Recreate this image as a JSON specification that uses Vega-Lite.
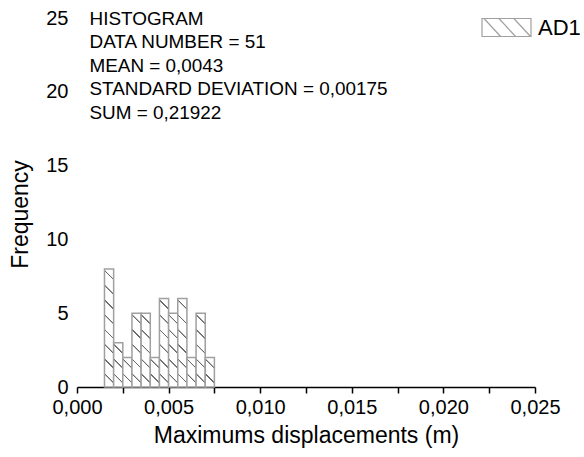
{
  "$schema": "https://vega.github.io/schema/vega-lite/v6.json",
  "width": 458,
  "height": 369,
  "autosize": "none",
  "padding": {"left": 77, "top": 18, "right": 49, "bottom": 70},
  "background": "white",
  "config": {
    "view": {"stroke": null},
    "font": "Liberation Sans",
    "axis": {"grid": false, "labelFont": "Liberation Sans", "titleFont": "Liberation Sans", "labelColor": "black", "titleColor": "black", "titleFontWeight": "normal"}
  },
  "layer": [
    {
      "data": {
        "values": [
          {"bin_start": 0.0015, "bin_end": 0.002, "count": 8},
          {"bin_start": 0.002, "bin_end": 0.0025, "count": 3},
          {"bin_start": 0.0025, "bin_end": 0.003, "count": 2},
          {"bin_start": 0.003, "bin_end": 0.0035, "count": 5},
          {"bin_start": 0.0035, "bin_end": 0.004, "count": 5},
          {"bin_start": 0.004, "bin_end": 0.0045, "count": 2},
          {"bin_start": 0.0045, "bin_end": 0.005, "count": 6},
          {"bin_start": 0.005, "bin_end": 0.0055, "count": 5},
          {"bin_start": 0.0055, "bin_end": 0.006, "count": 6},
          {"bin_start": 0.006, "bin_end": 0.0065, "count": 2},
          {"bin_start": 0.0065, "bin_end": 0.007, "count": 5},
          {"bin_start": 0.007, "bin_end": 0.0075, "count": 2}
        ]
      },
      "mark": {"type": "rect", "strokeWidth": 1.5},
      "encoding": {
        "x": {
          "field": "bin_start",
          "type": "quantitative",
          "scale": {"domain": [0, 0.025], "nice": false, "zero": false},
          "axis": {
            "title": "Maximums displacements (m)",
            "titleFontSize": 23,
            "titlePadding": 7,
            "values": [0, 0.0025, 0.005, 0.0075, 0.01, 0.0125, 0.015, 0.0175, 0.02, 0.0225, 0.025],
            "labelExpr": "abs(datum.value*200 - round(datum.value*200)) < 0.001 ? replace(format(datum.value, '.3f'), '.', ',') : ''",
            "labelFontSize": 20,
            "labelPadding": 4,
            "labelFlush": false,
            "labelOverlap": false,
            "domainColor": "black",
            "domainWidth": 1.5,
            "tickColor": "black",
            "tickWidth": 1.5,
            "tickSize": 6,
            "encode": {"ticks": {"update": {"y2": {"signal": "abs(datum.value*200 - round(datum.value*200)) < 0.001 ? 6 : 4"}}}}
          }
        },
        "x2": {"field": "bin_end"},
        "y": {
          "field": "count",
          "type": "quantitative",
          "stack": null,
          "scale": {"domain": [0, 25], "nice": false},
          "axis": {
            "title": "Frequency",
            "titleFontSize": 23,
            "titleAngle": -90,
            "titleBaseline": "middle",
            "titleX": -57,
            "titleY": 196,
            "values": [0, 5, 10, 15, 20, 25],
            "labelFontSize": 20,
            "labelPadding": 9,
            "labelFlush": false,
            "domain": false,
            "ticks": false,
            "tickSize": 0
          }
        },
        "y2": {"datum": 0},
        "fill": {
          "condition": [
            {"test": "datum.count === 2", "value": {"gradient": "linear", "x1": 0, "y1": 1, "x2": 0.3103, "y2": 0, "stops": [
              {"offset": 0, "color": "white"},
              {"offset": 0.3789, "color": "white"}, {"offset": 0.3943, "color": "#6a6a6a"}, {"offset": 0.4253, "color": "#6a6a6a"}, {"offset": 0.4407, "color": "white"},
              {"offset": 0.8350, "color": "white"}, {"offset": 0.8504, "color": "#6a6a6a"}, {"offset": 0.8814, "color": "#6a6a6a"}, {"offset": 0.8968, "color": "white"},
              {"offset": 1, "color": "white"}]}},
            {"test": "datum.count === 3", "value": {"gradient": "linear", "x1": 0, "y1": 1, "x2": 0.2069, "y2": 0, "stops": [
              {"offset": 0, "color": "white"},
              {"offset": 0.2654, "color": "white"}, {"offset": 0.2763, "color": "#6a6a6a"}, {"offset": 0.2979, "color": "#6a6a6a"}, {"offset": 0.3088, "color": "white"},
              {"offset": 0.5851, "color": "white"}, {"offset": 0.5960, "color": "#6a6a6a"}, {"offset": 0.6176, "color": "#6a6a6a"}, {"offset": 0.6285, "color": "white"},
              {"offset": 0.9047, "color": "white"}, {"offset": 0.9156, "color": "#6a6a6a"}, {"offset": 0.9372, "color": "#6a6a6a"}, {"offset": 0.9481, "color": "white"},
              {"offset": 1, "color": "white"}]}},
            {"test": "datum.count === 5", "value": {"gradient": "linear", "x1": 0, "y1": 1, "x2": 0.1241, "y2": 0, "stops": [
              {"offset": 0, "color": "white"},
              {"offset": 0.1636, "color": "white"}, {"offset": 0.1702, "color": "#6a6a6a"}, {"offset": 0.1836, "color": "#6a6a6a"}, {"offset": 0.1902, "color": "white"},
              {"offset": 0.3606, "color": "white"}, {"offset": 0.3672, "color": "#6a6a6a"}, {"offset": 0.3806, "color": "#6a6a6a"}, {"offset": 0.3872, "color": "white"},
              {"offset": 0.5576, "color": "white"}, {"offset": 0.5642, "color": "#6a6a6a"}, {"offset": 0.5776, "color": "#6a6a6a"}, {"offset": 0.5842, "color": "white"},
              {"offset": 0.7545, "color": "white"}, {"offset": 0.7611, "color": "#6a6a6a"}, {"offset": 0.7745, "color": "#6a6a6a"}, {"offset": 0.7811, "color": "white"},
              {"offset": 0.9515, "color": "white"}, {"offset": 0.9581, "color": "#6a6a6a"}, {"offset": 0.9715, "color": "#6a6a6a"}, {"offset": 0.9781, "color": "white"},
              {"offset": 1, "color": "white"}]}},
            {"test": "datum.count === 6", "value": {"gradient": "linear", "x1": 0, "y1": 1, "x2": 0.1034, "y2": 0, "stops": [
              {"offset": 0, "color": "white"},
              {"offset": 0.1369, "color": "white"}, {"offset": 0.1425, "color": "#6a6a6a"}, {"offset": 0.1537, "color": "#6a6a6a"}, {"offset": 0.1593, "color": "white"},
              {"offset": 0.3018, "color": "white"}, {"offset": 0.3074, "color": "#6a6a6a"}, {"offset": 0.3186, "color": "#6a6a6a"}, {"offset": 0.3242, "color": "white"},
              {"offset": 0.4667, "color": "white"}, {"offset": 0.4723, "color": "#6a6a6a"}, {"offset": 0.4835, "color": "#6a6a6a"}, {"offset": 0.4891, "color": "white"},
              {"offset": 0.6316, "color": "white"}, {"offset": 0.6372, "color": "#6a6a6a"}, {"offset": 0.6484, "color": "#6a6a6a"}, {"offset": 0.6540, "color": "white"},
              {"offset": 0.7965, "color": "white"}, {"offset": 0.8021, "color": "#6a6a6a"}, {"offset": 0.8133, "color": "#6a6a6a"}, {"offset": 0.8189, "color": "white"},
              {"offset": 0.9614, "color": "white"}, {"offset": 0.9670, "color": "#6a6a6a"}, {"offset": 0.9782, "color": "#6a6a6a"}, {"offset": 0.9838, "color": "white"},
              {"offset": 1, "color": "white"}]}},
            {"test": "datum.count === 8", "value": {"gradient": "linear", "x1": 0, "y1": 1, "x2": 0.0776, "y2": 0, "stops": [
              {"offset": 0, "color": "white"},
              {"offset": 0.1032, "color": "white"}, {"offset": 0.1074, "color": "#6a6a6a"}, {"offset": 0.1158, "color": "#6a6a6a"}, {"offset": 0.1200, "color": "white"},
              {"offset": 0.2275, "color": "white"}, {"offset": 0.2317, "color": "#6a6a6a"}, {"offset": 0.2401, "color": "#6a6a6a"}, {"offset": 0.2443, "color": "white"},
              {"offset": 0.3517, "color": "white"}, {"offset": 0.3559, "color": "#6a6a6a"}, {"offset": 0.3643, "color": "#6a6a6a"}, {"offset": 0.3685, "color": "white"},
              {"offset": 0.4760, "color": "white"}, {"offset": 0.4802, "color": "#6a6a6a"}, {"offset": 0.4886, "color": "#6a6a6a"}, {"offset": 0.4928, "color": "white"},
              {"offset": 0.6002, "color": "white"}, {"offset": 0.6044, "color": "#6a6a6a"}, {"offset": 0.6128, "color": "#6a6a6a"}, {"offset": 0.6170, "color": "white"},
              {"offset": 0.7245, "color": "white"}, {"offset": 0.7287, "color": "#6a6a6a"}, {"offset": 0.7371, "color": "#6a6a6a"}, {"offset": 0.7413, "color": "white"},
              {"offset": 0.8488, "color": "white"}, {"offset": 0.8530, "color": "#6a6a6a"}, {"offset": 0.8614, "color": "#6a6a6a"}, {"offset": 0.8656, "color": "white"},
              {"offset": 0.9730, "color": "white"}, {"offset": 0.9772, "color": "#6a6a6a"}, {"offset": 0.9856, "color": "#6a6a6a"}, {"offset": 0.9898, "color": "white"},
              {"offset": 1, "color": "white"}]}}
          ],
          "value": "white"
        },
        "stroke": {
          "datum": "AD1",
          "type": "nominal",
          "scale": {"range": ["#a0a0a0"]},
          "legend": {
            "orient": "none",
            "legendX": 404,
            "legendY": -16,
            "title": null,
            "padding": 0,
            "symbolType": "M-1,-0.367H1V0.367H-1ZM-0.92,-0.367L-0.24,0.367M-0.31,-0.367L0.37,0.367M0.3,-0.367L0.98,0.367",
            "symbolSize": 2401,
            "symbolFillColor": "transparent",
            "symbolStrokeColor": "#808080",
            "symbolStrokeWidth": 1.2,
            "labelFontSize": 22,
            "labelFont": "Liberation Sans",
            "labelColor": "black",
            "labelOffset": 6
          }
        }
      }
    },
    {
      "data": {"values": [{"note": "statistics"}]},
      "mark": {"type": "text", "align": "left", "baseline": "alphabetic", "font": "Liberation Sans", "fontSize": 18.9, "lineHeight": 23.5, "color": "black"},
      "encoding": {
        "x": {"datum": 0.000682, "type": "quantitative"},
        "y": {"datum": 24.553, "type": "quantitative"},
        "text": {"value": ["HISTOGRAM", "DATA NUMBER = 51", "MEAN = 0,0043", "STANDARD DEVIATION = 0,00175", "SUM = 0,21922"]}
      }
    }
  ]
}
